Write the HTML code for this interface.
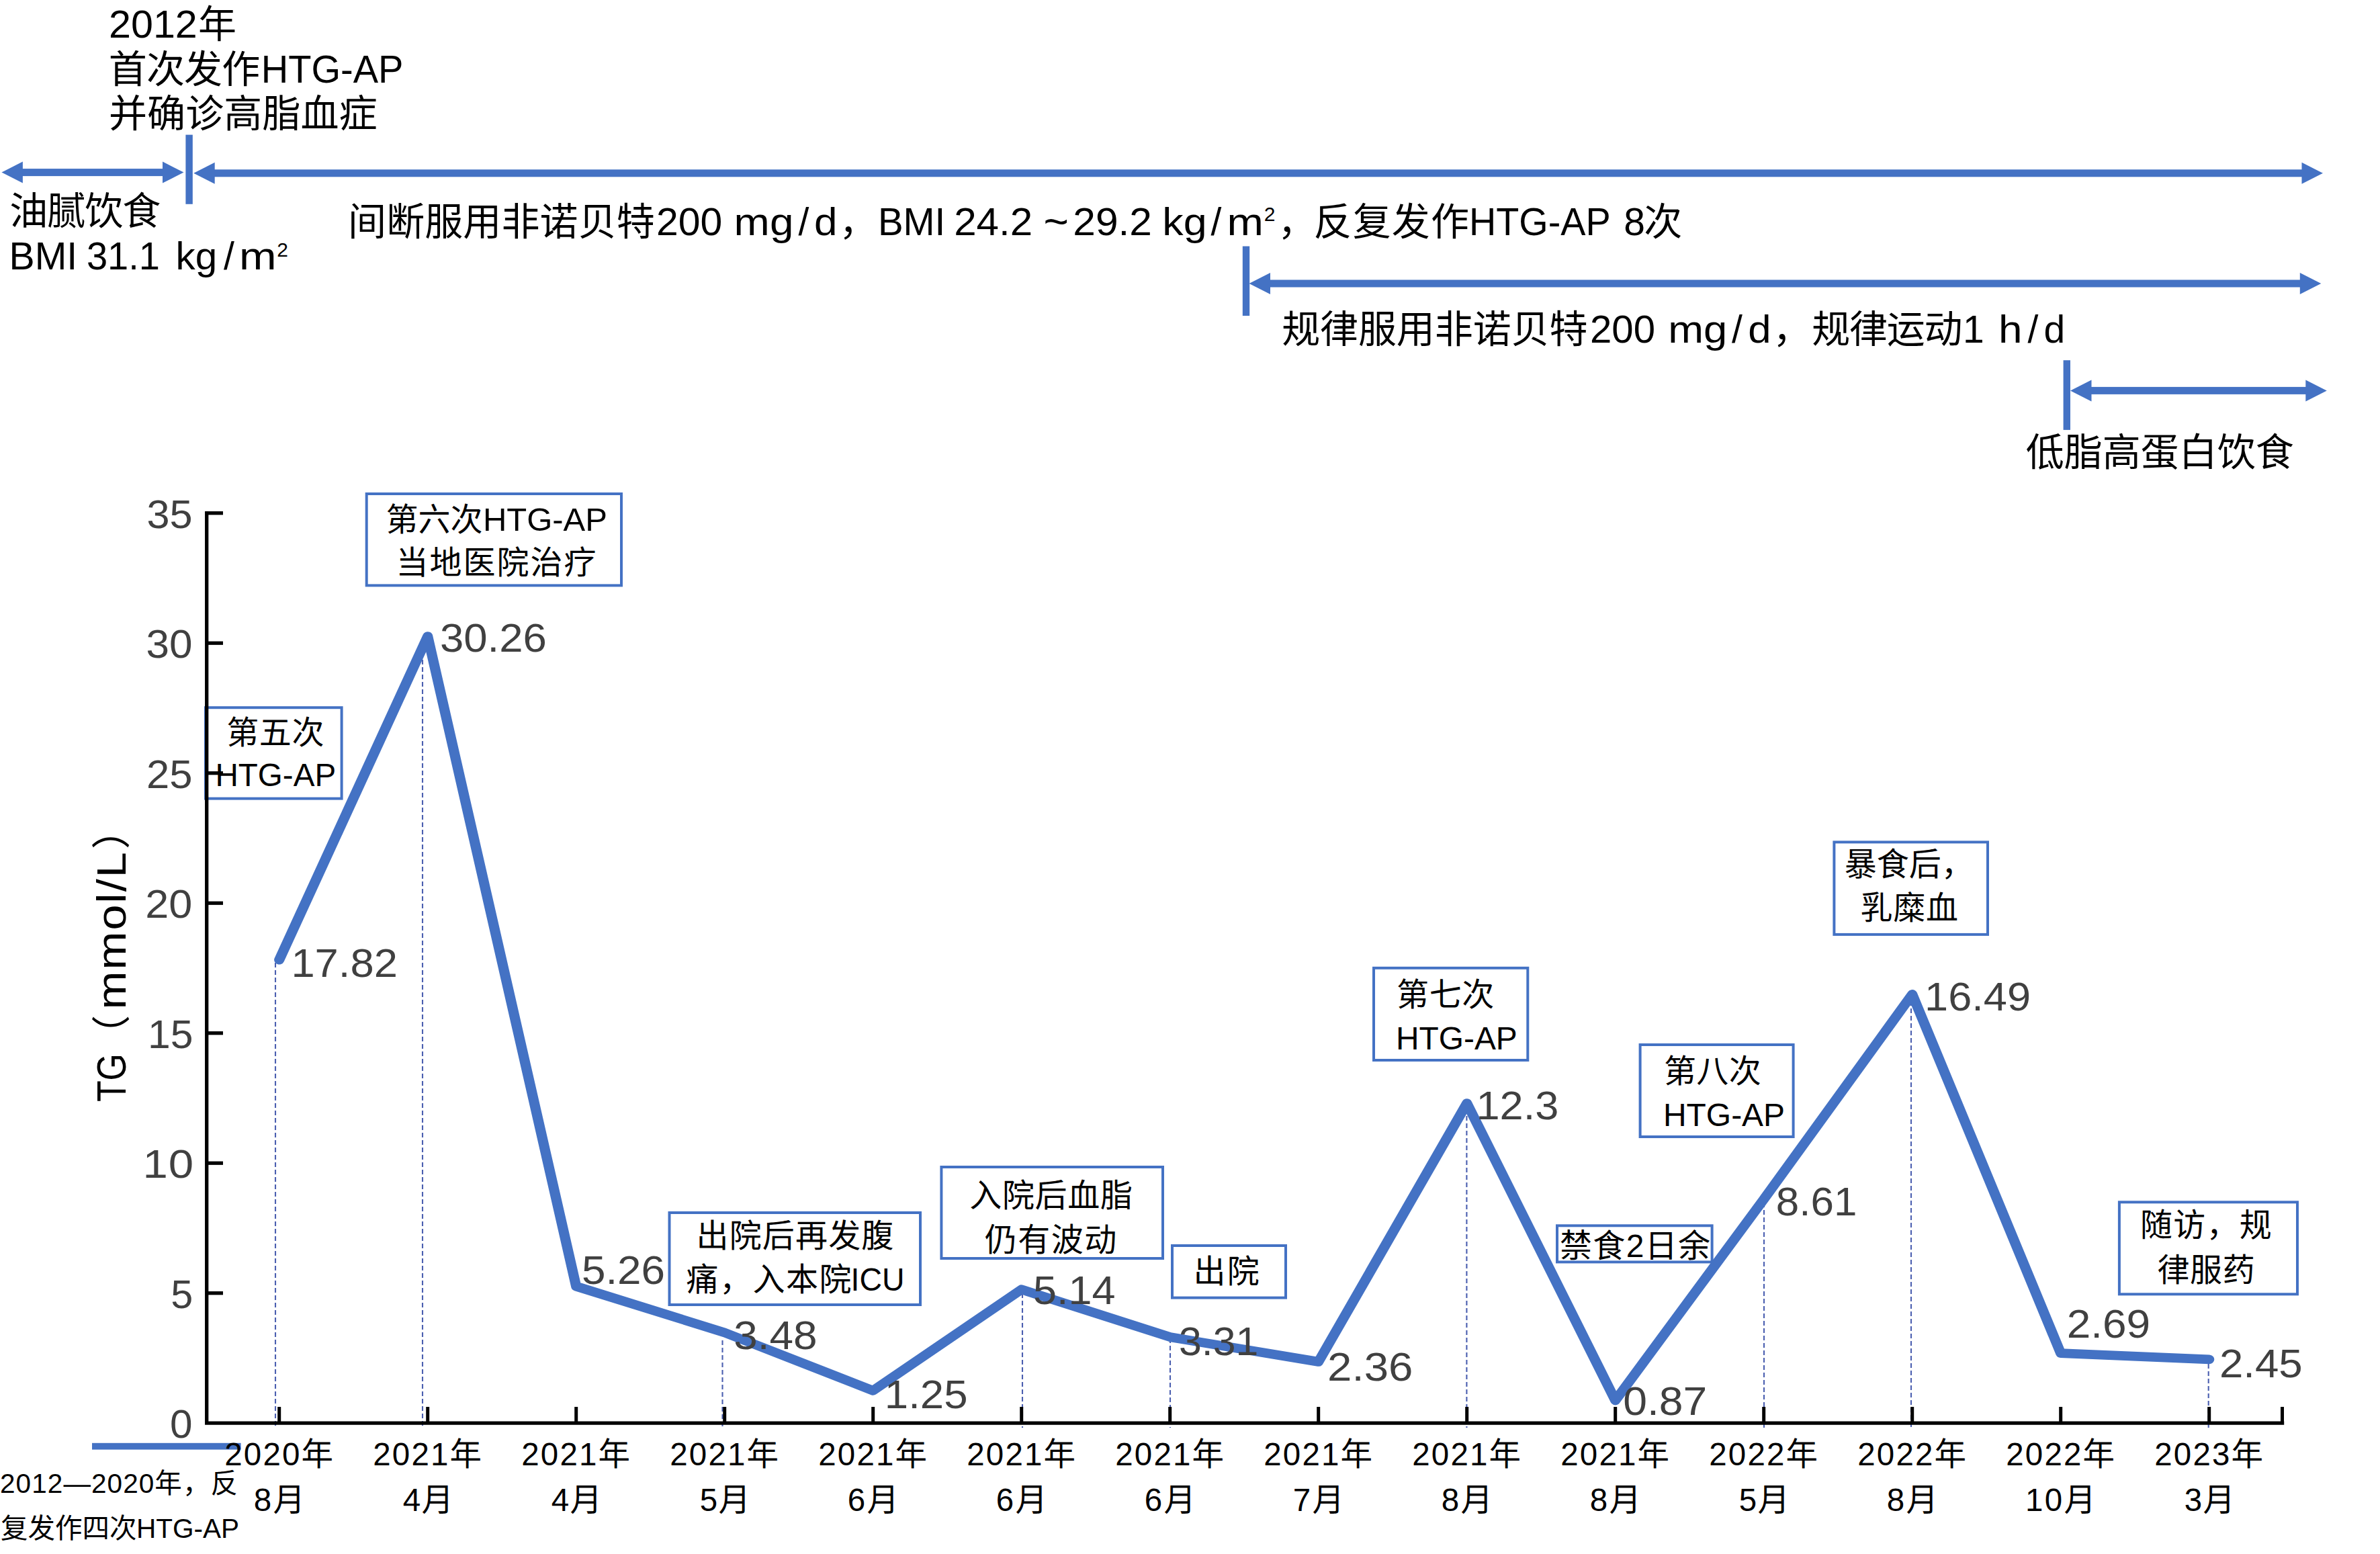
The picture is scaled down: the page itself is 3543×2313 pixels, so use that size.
<!DOCTYPE html>
<html lang="zh-CN"><head><meta charset="utf-8"><title>TG 变化趋势</title>
<style>html,body{margin:0;padding:0;background:#fff}svg{display:block}text{font-family:'Liberation Sans', 'Noto Sans CJK SC', sans-serif;white-space:pre}.t{font-size:57px;fill:#000}.d{font-size:60px;fill:#404040}.x{font-size:47.5px;fill:#000}.b{font-size:48px;fill:#000}.s{font-size:40.5px;fill:#000}</style></head><body>
<svg width="3543" height="2313" viewBox="0 0 3543 2313">
<rect width="3543" height="2313" fill="#fff"/>
<rect x="31.9" y="251.1" width="212.1" height="11.0" fill="#4472C4"/><polygon points="2.4,256.6 33.9,240.6 33.9,272.6" fill="#4472C4"/><polygon points="273.5,256.6 242.0,240.6 242.0,272.6" fill="#4472C4"/>
<rect x="276.4" y="200.6" width="10.4" height="103.2" fill="#4472C4"/>
<rect x="317.7" y="252.3" width="3110.8" height="11.0" fill="#4472C4"/><polygon points="288.2,257.8 319.7,241.8 319.7,273.8" fill="#4472C4"/><polygon points="3458.0,257.8 3426.5,241.8 3426.5,273.8" fill="#4472C4"/>
<rect x="1849.8" y="366.5" width="10.4" height="103.5" fill="#4472C4"/>
<rect x="1889.0" y="416.5" width="1536.8" height="11.0" fill="#4472C4"/><polygon points="1859.5,422.0 1891.0,406.0 1891.0,438.0" fill="#4472C4"/><polygon points="3455.3,422.0 3423.8,406.0 3423.8,438.0" fill="#4472C4"/>
<rect x="3071.6" y="536.2" width="10.4" height="103.7" fill="#4472C4"/>
<rect x="3111.5" y="575.9" width="322.8" height="11.0" fill="#4472C4"/><polygon points="3082.0,581.4 3113.5,565.4 3113.5,597.4" fill="#4472C4"/><polygon points="3463.8,581.4 3432.3,565.4 3432.3,597.4" fill="#4472C4"/>
<text class="t" style="font-size:57px"><tspan x="162.0" y="55.9" textLength="131.8" lengthAdjust="spacingAndGlyphs">2012</tspan><tspan x="295.0" y="55.9">年</tspan></text>
<text class="t" style="font-size:57px"><tspan x="161.7" y="122.8" letter-spacing="-0.80">首次发作</tspan><tspan x="388.7" y="122.8" textLength="211.8" lengthAdjust="spacingAndGlyphs">HTG-AP</tspan></text>
<text class="t" style="font-size:57px"><tspan x="162.0" y="189.3" letter-spacing="0.12">并确诊高脂血症</tspan></text>
<text class="t" style="font-size:57px"><tspan x="14.2" y="333.7" letter-spacing="-1.00">油腻饮食</tspan></text>
<text class="t" style="font-size:57px"><tspan x="13.6" y="400.6" textLength="101.6" lengthAdjust="spacingAndGlyphs">BMI</tspan><tspan x="128.9" y="400.6" textLength="109.0" lengthAdjust="spacingAndGlyphs">31.1</tspan><tspan x="261.6" y="400.6" textLength="61.7" lengthAdjust="spacingAndGlyphs">kg</tspan><tspan x="332.9" y="400.6">/</tspan><tspan x="355.9" y="400.6" textLength="55.6" lengthAdjust="spacingAndGlyphs">m</tspan><tspan x="412.2" y="381.5" font-size="30">2</tspan></text>
<text class="t" style="font-size:57px"><tspan x="518.1" y="349.8" letter-spacing="0.09">间断服用非诺贝特</tspan><tspan x="976.9" y="349.8" textLength="98.3" lengthAdjust="spacingAndGlyphs">200</tspan><tspan x="1092.4" y="349.8" textLength="89.7" lengthAdjust="spacingAndGlyphs" letter-spacing="0.45">mg</tspan><tspan x="1188.5" y="349.8">/</tspan><tspan x="1212.1" y="349.8" textLength="34.5" lengthAdjust="spacingAndGlyphs">d</tspan><tspan x="1249.0" y="349.8">，</tspan><tspan x="1306.9" y="349.8" textLength="100.4" lengthAdjust="spacingAndGlyphs">BMI</tspan><tspan x="1420.2" y="349.8" textLength="117.0" lengthAdjust="spacingAndGlyphs">24.2</tspan><tspan x="1553.5" y="352.0" font-size="64">~</tspan><tspan x="1597.3" y="349.8" textLength="117.7" lengthAdjust="spacingAndGlyphs">29.2</tspan><tspan x="1730.3" y="349.8" textLength="66.3" lengthAdjust="spacingAndGlyphs">kg</tspan><tspan x="1802.5" y="349.8">/</tspan><tspan x="1826.6" y="349.8" textLength="54.4" lengthAdjust="spacingAndGlyphs">m</tspan><tspan x="1881.7" y="328.7" font-size="30">2</tspan><tspan x="1902.0" y="349.8">，</tspan><tspan x="1955.6" y="349.8" letter-spacing="1.10">反复发作</tspan><tspan x="2187.0" y="349.8" textLength="210.7" lengthAdjust="spacingAndGlyphs">HTG-AP</tspan><tspan x="2417.3" y="349.8">8</tspan><tspan x="2447.3" y="349.8">次</tspan></text>
<text class="t" style="font-size:57px"><tspan x="1908.2" y="510.0" letter-spacing="-0.11">规律服用非诺贝特</tspan><tspan x="2367.0" y="510.0" textLength="97.1" lengthAdjust="spacingAndGlyphs">200</tspan><tspan x="2483.2" y="510.0" textLength="88.0" lengthAdjust="spacingAndGlyphs">mg</tspan><tspan x="2578.0" y="510.0">/</tspan><tspan x="2602.3" y="510.0" textLength="34.3" lengthAdjust="spacingAndGlyphs">d</tspan><tspan x="2639.0" y="510.0">，</tspan><tspan x="2697.3" y="510.0" letter-spacing="-1.23">规律运动</tspan><tspan x="2922.0" y="510.0">1</tspan><tspan x="2975.1" y="510.0" textLength="35.5" lengthAdjust="spacingAndGlyphs">h</tspan><tspan x="3018.5" y="510.0">/</tspan><tspan x="3042.6" y="510.0" textLength="31.7" lengthAdjust="spacingAndGlyphs">d</tspan></text>
<text class="t" style="font-size:57px"><tspan x="3015.8" y="693.4">低脂高蛋白饮食</tspan></text>
<line x1="410.0" y1="1433.0" x2="410.0" y2="2125" stroke="#4B5FB0" stroke-width="2.1" stroke-dasharray="7 4"/>
<line x1="629.0" y1="960.0" x2="629.0" y2="2125" stroke="#4B5FB0" stroke-width="2.1" stroke-dasharray="7 4"/>
<line x1="1075.5" y1="1995.0" x2="1075.5" y2="2125" stroke="#4B5FB0" stroke-width="2.1" stroke-dasharray="7 4"/>
<line x1="1522.0" y1="1925.0" x2="1522.0" y2="2125" stroke="#4B5FB0" stroke-width="2.1" stroke-dasharray="7 4"/>
<line x1="1742.0" y1="1992.0" x2="1742.0" y2="2125" stroke="#4B5FB0" stroke-width="2.1" stroke-dasharray="7 4"/>
<line x1="2183.4" y1="1650.0" x2="2183.4" y2="2125" stroke="#4B5FB0" stroke-width="2.1" stroke-dasharray="7 4"/>
<line x1="2626.0" y1="1790.0" x2="2626.0" y2="2125" stroke="#4B5FB0" stroke-width="2.1" stroke-dasharray="7 4"/>
<line x1="2845.0" y1="1490.0" x2="2845.0" y2="2125" stroke="#4B5FB0" stroke-width="2.1" stroke-dasharray="7 4"/>
<line x1="3287.7" y1="2030.0" x2="3287.7" y2="2125" stroke="#4B5FB0" stroke-width="2.1" stroke-dasharray="7 4"/>
<rect x="306.0" y="1053.2" width="202.6" height="135.4" fill="none" stroke="#4472C4" stroke-width="4"/>
<text class="b" style="font-size:48px"><tspan x="337.2" y="1106.7" letter-spacing="0.60">第五次</tspan></text>
<text class="b" style="font-size:48px"><tspan x="320.5" y="1170.0" textLength="179.6" lengthAdjust="spacingAndGlyphs">HTG-AP</tspan></text>
<rect x="545.7" y="735.0" width="379.3" height="136.4" fill="none" stroke="#4472C4" stroke-width="4"/>
<text class="b" style="font-size:48px"><tspan x="574.6" y="790.0">第六次</tspan><tspan x="718.9" y="790.0" textLength="185.1" lengthAdjust="spacingAndGlyphs">HTG-AP</tspan></text>
<text class="b" style="font-size:48px"><tspan x="589.6" y="854.4" letter-spacing="1.98">当地医院治疗</tspan></text>
<rect x="996.5" y="1805.0" width="373.5" height="137.0" fill="none" stroke="#4472C4" stroke-width="4"/>
<text class="b" style="font-size:48px"><tspan x="1036.5" y="1855.7" letter-spacing="1.16">出院后再发腹</tspan></text>
<text class="b" style="font-size:48px"><tspan x="1021.4" y="1921.0" letter-spacing="1.50">痛，入本院</tspan><tspan x="1266.5" y="1921.0" textLength="80.0" lengthAdjust="spacingAndGlyphs">ICU</tspan></text>
<rect x="1401.4" y="1737.0" width="329.6" height="136.0" fill="none" stroke="#4472C4" stroke-width="4"/>
<text class="b" style="font-size:48px"><tspan x="1443.3" y="1795.5" letter-spacing="0.65">入院后血脂</tspan></text>
<text class="b" style="font-size:48px"><tspan x="1465.8" y="1862.0" letter-spacing="1.50">仍有波动</tspan></text>
<rect x="1745.0" y="1854.0" width="169.0" height="77.6" fill="none" stroke="#4472C4" stroke-width="4"/>
<text class="b" style="font-size:48px"><tspan x="1776.6" y="1909.0" letter-spacing="2.10">出院</tspan></text>
<rect x="2045.0" y="1440.8" width="229.3" height="137.2" fill="none" stroke="#4472C4" stroke-width="4"/>
<text class="b" style="font-size:48px"><tspan x="2079.0" y="1497.4" letter-spacing="0.65">第七次</tspan></text>
<text class="b" style="font-size:48px"><tspan x="2078.0" y="1561.8" textLength="180.8" lengthAdjust="spacingAndGlyphs">HTG-AP</tspan></text>
<rect x="2318.0" y="1824.3" width="230.6" height="54.1" fill="none" stroke="#4472C4" stroke-width="4"/>
<text class="b" style="font-size:48px"><tspan x="2322.0" y="1870.7" letter-spacing="1.33">禁食2日余</tspan></text>
<rect x="2441.6" y="1555.0" width="228.0" height="137.0" fill="none" stroke="#4472C4" stroke-width="4"/>
<text class="b" style="font-size:48px"><tspan x="2477.0" y="1611.0" letter-spacing="0.35">第八次</tspan></text>
<text class="b" style="font-size:48px"><tspan x="2476.0" y="1675.5" textLength="181.0" lengthAdjust="spacingAndGlyphs">HTG-AP</tspan></text>
<rect x="2730.4" y="1253.4" width="228.6" height="137.5" fill="none" stroke="#4472C4" stroke-width="4"/>
<text class="b" style="font-size:48px"><tspan x="2745.8" y="1303.3">暴食后，</tspan></text>
<text class="b" style="font-size:48px"><tspan x="2769.6" y="1367.7" letter-spacing="0.70">乳糜血</tspan></text>
<rect x="3154.9" y="1789.3" width="265.1" height="137.0" fill="none" stroke="#4472C4" stroke-width="4"/>
<text class="b" style="font-size:48px"><tspan x="3185.9" y="1840.0" letter-spacing="1.30">随访，规</tspan></text>
<text class="b" style="font-size:48px"><tspan x="3211.4" y="1906.5" letter-spacing="0.65">律服药</tspan></text>
<g stroke="#000" stroke-width="5.3" fill="none" stroke-linecap="butt">
<path d="M307.7 761.0 V2118.2 H3400.2"/>
<line x1="307.7" y1="1924.7" x2="332.0" y2="1924.7"/>
<line x1="307.7" y1="1731.2" x2="332.0" y2="1731.2"/>
<line x1="307.7" y1="1537.7" x2="332.0" y2="1537.7"/>
<line x1="307.7" y1="1344.2" x2="332.0" y2="1344.2"/>
<line x1="307.7" y1="1150.7" x2="332.0" y2="1150.7"/>
<line x1="307.7" y1="957.2" x2="332.0" y2="957.2"/>
<line x1="307.7" y1="763.7" x2="332.0" y2="763.7"/>
<line x1="415.7" y1="2118.2" x2="415.7" y2="2094.0" stroke-width="5"/>
<line x1="636.7" y1="2118.2" x2="636.7" y2="2094.0" stroke-width="5"/>
<line x1="857.7" y1="2118.2" x2="857.7" y2="2094.0" stroke-width="5"/>
<line x1="1078.7" y1="2118.2" x2="1078.7" y2="2094.0" stroke-width="5"/>
<line x1="1299.7" y1="2118.2" x2="1299.7" y2="2094.0" stroke-width="5"/>
<line x1="1520.7" y1="2118.2" x2="1520.7" y2="2094.0" stroke-width="5"/>
<line x1="1741.7" y1="2118.2" x2="1741.7" y2="2094.0" stroke-width="5"/>
<line x1="1962.7" y1="2118.2" x2="1962.7" y2="2094.0" stroke-width="5"/>
<line x1="2183.7" y1="2118.2" x2="2183.7" y2="2094.0" stroke-width="5"/>
<line x1="2404.7" y1="2118.2" x2="2404.7" y2="2094.0" stroke-width="5"/>
<line x1="2625.7" y1="2118.2" x2="2625.7" y2="2094.0" stroke-width="5"/>
<line x1="2846.7" y1="2118.2" x2="2846.7" y2="2094.0" stroke-width="5"/>
<line x1="3067.7" y1="2118.2" x2="3067.7" y2="2094.0" stroke-width="5"/>
<line x1="3288.7" y1="2118.2" x2="3288.7" y2="2094.0" stroke-width="5"/>
<line x1="3397.5" y1="2118.2" x2="3397.5" y2="2094.0" stroke-width="5"/>
</g>
<text class="d" style="font-size:60px"><tspan x="218.4" y="785.6" textLength="68.1" lengthAdjust="spacingAndGlyphs">35</tspan></text>
<text class="d" style="font-size:60px"><tspan x="217.4" y="979.1" textLength="69.0" lengthAdjust="spacingAndGlyphs">30</tspan></text>
<text class="d" style="font-size:60px"><tspan x="217.9" y="1172.6" textLength="68.5" lengthAdjust="spacingAndGlyphs">25</tspan></text>
<text class="d" style="font-size:60px"><tspan x="216.3" y="1366.1" textLength="70.1" lengthAdjust="spacingAndGlyphs">20</tspan></text>
<text class="d" style="font-size:60px"><tspan x="220.0" y="1559.6" textLength="67.4" lengthAdjust="spacingAndGlyphs">15</tspan></text>
<text class="d" style="font-size:60px"><tspan x="212.5" y="1753.1" textLength="76.5" lengthAdjust="spacingAndGlyphs" letter-spacing="0.77">10</tspan></text>
<text class="d" style="font-size:60px"><tspan x="254.3" y="1946.6" textLength="33.0" lengthAdjust="spacingAndGlyphs">5</tspan></text>
<text class="d" style="font-size:60px"><tspan x="253.0" y="2140.1" textLength="33.5" lengthAdjust="spacingAndGlyphs">0</tspan></text>
<text class="t" style="font-size:61px" transform="rotate(-90)"><tspan x="-1640.1" y="187.4" textLength="71.9" lengthAdjust="spacingAndGlyphs">TG</tspan><tspan x="-1568.8" y="187.4" font-size="58">（</tspan><tspan x="-1502.4" y="187.4" textLength="236.2" lengthAdjust="spacingAndGlyphs" letter-spacing="1.81">mmol/L</tspan><tspan x="-1264.0" y="187.4" font-size="58">）</tspan></text>
<polyline transform="scale(1.1 1)" points="377.91,1428.6 578.82,947.1 779.73,1914.6 980.64,1983.5 1181.55,2069.8 1382.45,1919.3 1583.36,1990.1 1784.27,2026.9 1985.18,1642.2 2186.09,2084.5 2387.00,1785.0 2587.91,1480.0 2788.82,2014.1 2989.73,2023.4" fill="none" stroke="#4472C4" stroke-width="13.8" stroke-linejoin="round" stroke-linecap="round"/>
<text class="d" style="font-size:60px"><tspan x="433.4" y="1454.0" textLength="158.5" lengthAdjust="spacingAndGlyphs">17.82</tspan></text>
<text class="d" style="font-size:60px"><tspan x="654.9" y="970.0" textLength="159.0" lengthAdjust="spacingAndGlyphs">30.26</tspan></text>
<text class="d" style="font-size:60px"><tspan x="865.9" y="1910.6" textLength="124.2" lengthAdjust="spacingAndGlyphs">5.26</tspan></text>
<text class="d" style="font-size:60px"><tspan x="1092.2" y="2008.4" textLength="124.4" lengthAdjust="spacingAndGlyphs">3.48</tspan></text>
<text class="d" style="font-size:60px"><tspan x="1316.8" y="2096.0" textLength="123.7" lengthAdjust="spacingAndGlyphs">1.25</tspan></text>
<text class="d" style="font-size:60px"><tspan x="1537.9" y="1941.0" textLength="122.5" lengthAdjust="spacingAndGlyphs">5.14</tspan></text>
<text class="d" style="font-size:60px"><tspan x="1755.0" y="2016.8" textLength="118.4" lengthAdjust="spacingAndGlyphs">3.31</tspan></text>
<text class="d" style="font-size:60px"><tspan x="1976.1" y="2054.5" textLength="127.3" lengthAdjust="spacingAndGlyphs">2.36</tspan></text>
<text class="d" style="font-size:60px"><tspan x="2197.5" y="1666.3" textLength="122.9" lengthAdjust="spacingAndGlyphs">12.3</tspan></text>
<text class="d" style="font-size:60px"><tspan x="2416.2" y="2105.8" textLength="125.0" lengthAdjust="spacingAndGlyphs">0.87</tspan></text>
<text class="d" style="font-size:60px"><tspan x="2643.8" y="1808.6" textLength="120.6" lengthAdjust="spacingAndGlyphs">8.61</tspan></text>
<text class="d" style="font-size:60px"><tspan x="2865.1" y="1504.0" textLength="158.0" lengthAdjust="spacingAndGlyphs">16.49</tspan></text>
<text class="d" style="font-size:60px"><tspan x="3076.7" y="1990.7" textLength="124.5" lengthAdjust="spacingAndGlyphs">2.69</tspan></text>
<text class="d" style="font-size:60px"><tspan x="3303.9" y="2049.7" textLength="123.8" lengthAdjust="spacingAndGlyphs">2.45</tspan></text>
<rect x="137" y="2147.8" width="221.6" height="9.8" fill="#4472C4"/>
<text class="x" style="font-size:47.5px"><tspan x="334.2" y="2180.7" letter-spacing="2.18">2020年</tspan></text>
<text class="x" style="font-size:47.5px"><tspan x="377.8" y="2248.5" letter-spacing="2.38">8月</tspan></text>
<text class="x" style="font-size:47.5px"><tspan x="555.2" y="2180.7" letter-spacing="2.18">2021年</tspan></text>
<text class="x" style="font-size:47.5px"><tspan x="599.8" y="2248.5" letter-spacing="1.38">4月</tspan></text>
<text class="x" style="font-size:47.5px"><tspan x="776.2" y="2180.7" letter-spacing="2.18">2021年</tspan></text>
<text class="x" style="font-size:47.5px"><tspan x="820.8" y="2248.5" letter-spacing="1.38">4月</tspan></text>
<text class="x" style="font-size:47.5px"><tspan x="997.2" y="2180.7" letter-spacing="2.18">2021年</tspan></text>
<text class="x" style="font-size:47.5px"><tspan x="1041.8" y="2248.5" letter-spacing="1.38">5月</tspan></text>
<text class="x" style="font-size:47.5px"><tspan x="1218.2" y="2180.7" letter-spacing="2.18">2021年</tspan></text>
<text class="x" style="font-size:47.5px"><tspan x="1261.8" y="2248.5" letter-spacing="2.38">6月</tspan></text>
<text class="x" style="font-size:47.5px"><tspan x="1439.2" y="2180.7" letter-spacing="2.18">2021年</tspan></text>
<text class="x" style="font-size:47.5px"><tspan x="1482.8" y="2248.5" letter-spacing="2.38">6月</tspan></text>
<text class="x" style="font-size:47.5px"><tspan x="1660.2" y="2180.7" letter-spacing="2.18">2021年</tspan></text>
<text class="x" style="font-size:47.5px"><tspan x="1703.8" y="2248.5" letter-spacing="2.38">6月</tspan></text>
<text class="x" style="font-size:47.5px"><tspan x="1881.2" y="2180.7" letter-spacing="2.18">2021年</tspan></text>
<text class="x" style="font-size:47.5px"><tspan x="1924.8" y="2248.5" letter-spacing="2.38">7月</tspan></text>
<text class="x" style="font-size:47.5px"><tspan x="2102.2" y="2180.7" letter-spacing="2.18">2021年</tspan></text>
<text class="x" style="font-size:47.5px"><tspan x="2145.8" y="2248.5" letter-spacing="2.38">8月</tspan></text>
<text class="x" style="font-size:47.5px"><tspan x="2323.2" y="2180.7" letter-spacing="2.18">2021年</tspan></text>
<text class="x" style="font-size:47.5px"><tspan x="2366.8" y="2248.5" letter-spacing="2.38">8月</tspan></text>
<text class="x" style="font-size:47.5px"><tspan x="2544.2" y="2180.7" letter-spacing="2.18">2022年</tspan></text>
<text class="x" style="font-size:47.5px"><tspan x="2588.8" y="2248.5" letter-spacing="1.38">5月</tspan></text>
<text class="x" style="font-size:47.5px"><tspan x="2765.2" y="2180.7" letter-spacing="2.18">2022年</tspan></text>
<text class="x" style="font-size:47.5px"><tspan x="2808.8" y="2248.5" letter-spacing="2.38">8月</tspan></text>
<text class="x" style="font-size:47.5px"><tspan x="2986.2" y="2180.7" letter-spacing="2.18">2022年</tspan></text>
<text class="x" style="font-size:47.5px"><tspan x="3014.9" y="2248.5" letter-spacing="2.38">10月</tspan></text>
<text class="x" style="font-size:47.5px"><tspan x="3207.2" y="2180.7" letter-spacing="2.18">2023年</tspan></text>
<text class="x" style="font-size:47.5px"><tspan x="3251.8" y="2248.5" letter-spacing="1.38">3月</tspan></text>
<text class="s" style="font-size:40.5px"><tspan x="0.0" y="2222.0" letter-spacing="1.07">2012—2020年，反</tspan></text>
<text class="s" style="font-size:40.5px"><tspan x="1.0" y="2288.8">复发作四次</tspan><tspan x="203.0" y="2288.8" textLength="153.0" lengthAdjust="spacingAndGlyphs">HTG-AP</tspan></text>
</svg></body></html>
